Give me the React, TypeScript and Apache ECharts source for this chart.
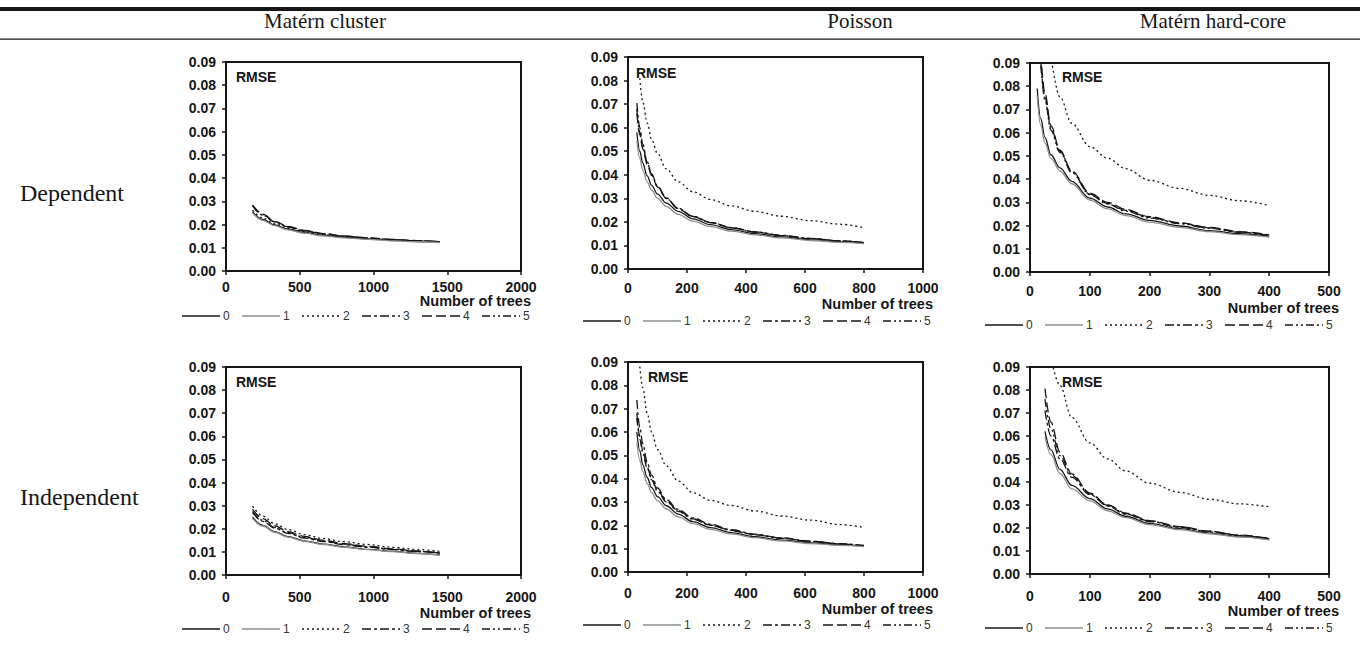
import React, { useEffect, useRef } from "react";
import * as echarts from "echarts";

// ---------- data ----------
const seriesNames = ["0", "1", "2", "3", "4", "5"];
const columnTitles = ["Matérn cluster", "Poisson", "Matérn hard-core"];
const rowTitles = ["Dependent", "Independent"];

const clusterX = [180, 250, 330, 420, 530, 660, 800, 960, 1130, 1300, 1450];
const poissonX = [30, 40, 50, 65, 80, 100, 130, 170, 220, 280, 350, 430, 520, 620, 720, 800];
const hardcoreX = [12, 18, 25, 35, 50, 70, 100, 130, 160, 200, 250, 300, 350, 400];

const clusterDependent = [
  [0.0255, 0.0222, 0.0198, 0.018, 0.0165, 0.0153, 0.0145, 0.0138, 0.0132, 0.0127, 0.0123],
  [0.025, 0.0218, 0.0195, 0.0177, 0.0163, 0.0151, 0.0143, 0.0136, 0.013, 0.0126, 0.0122],
  [0.0262, 0.0228, 0.0203, 0.0184, 0.0168, 0.0156, 0.0147, 0.014, 0.0134, 0.0129, 0.0125],
  [0.0282, 0.0242, 0.0212, 0.019, 0.0173, 0.016, 0.015, 0.0142, 0.0135, 0.013, 0.0126],
  [0.0285, 0.0245, 0.0214, 0.0192, 0.0175, 0.0161, 0.0151, 0.0143, 0.0136, 0.0131, 0.0127],
  [0.028, 0.024, 0.0211, 0.0189, 0.0172, 0.0159, 0.0149, 0.0141, 0.0135, 0.013, 0.0126],
];
const poissonDependent = [
  [0.058, 0.05, 0.045, 0.0395, 0.0355, 0.0318, 0.028, 0.0245, 0.0213, 0.0188, 0.0167, 0.015, 0.0136, 0.0124, 0.0115, 0.011],
  [0.0545, 0.047, 0.042, 0.037, 0.0335, 0.03, 0.0265, 0.0232, 0.0203, 0.018, 0.0161, 0.0145, 0.0132, 0.0121, 0.0113, 0.0108],
  [null, 0.081, 0.071, 0.062, 0.055, 0.049, 0.0425, 0.037, 0.0328, 0.0295, 0.0268, 0.0245, 0.0224, 0.0205, 0.019, 0.0175],
  [0.0705, 0.06, 0.053, 0.0455, 0.0405, 0.0352, 0.0302, 0.0258, 0.0224, 0.0198, 0.0176, 0.0158, 0.0143, 0.013, 0.0119, 0.0112],
  [0.066, 0.057, 0.051, 0.0445, 0.0398, 0.0348, 0.0299, 0.0256, 0.0222, 0.0197, 0.0175, 0.0157, 0.0142, 0.0129, 0.0119, 0.0112],
  [0.068, 0.058, 0.052, 0.045, 0.04, 0.035, 0.03, 0.0257, 0.0223, 0.0197, 0.0175, 0.0157, 0.0142, 0.0129, 0.0119, 0.0112],
];
const hardcoreDependent = [
  [0.079, 0.066, 0.058, 0.0505, 0.0448, 0.039, 0.0318, 0.028, 0.025, 0.0222, 0.0198, 0.0178, 0.0165, 0.0153],
  [0.076, 0.063, 0.0555, 0.049, 0.0435, 0.038, 0.031, 0.0272, 0.0243, 0.0215, 0.0192, 0.0174, 0.0161, 0.015],
  [null, null, null, 0.093, 0.0754, 0.064, 0.054, 0.049, 0.0445, 0.0395, 0.036, 0.033, 0.0307, 0.0286],
  [null, 0.091, 0.075, 0.062, 0.052, 0.043, 0.0335, 0.0295, 0.0265, 0.0235, 0.021, 0.019, 0.0172, 0.0158],
  [null, 0.094, 0.077, 0.063, 0.0525, 0.0435, 0.034, 0.03, 0.027, 0.0238, 0.0212, 0.0192, 0.0174, 0.016],
  [null, 0.089, 0.074, 0.061, 0.0515, 0.0428, 0.0333, 0.0292, 0.0262, 0.0232, 0.0208, 0.0188, 0.0171, 0.0157],
];
const clusterIndependent = [
  [0.025, 0.0215, 0.0188, 0.0166, 0.0148, 0.0134, 0.0122, 0.0111, 0.0102, 0.0094, 0.0087],
  [0.0245, 0.0212, 0.0185, 0.0164, 0.0146, 0.0132, 0.012, 0.011, 0.0101, 0.0093, 0.0086],
  [0.0298, 0.0255, 0.0222, 0.0197, 0.0175, 0.0158, 0.0144, 0.0132, 0.012, 0.011, 0.0102],
  [0.027, 0.0232, 0.0203, 0.018, 0.016, 0.0145, 0.0131, 0.012, 0.011, 0.0101, 0.0094],
  [0.0285, 0.0244, 0.0213, 0.0188, 0.0167, 0.015, 0.0136, 0.0124, 0.0113, 0.0104, 0.0096],
  [0.0275, 0.0236, 0.0206, 0.0183, 0.0163, 0.0147, 0.0133, 0.0122, 0.0111, 0.0102, 0.0095],
];
const poissonIndependent = [
  [0.06, 0.052, 0.046, 0.0405, 0.0362, 0.0323, 0.0284, 0.0248, 0.0216, 0.019, 0.0169, 0.0151, 0.0137, 0.0125, 0.0116, 0.0111],
  [0.0555, 0.048, 0.043, 0.038, 0.034, 0.0305, 0.027, 0.0236, 0.0207, 0.0183, 0.0163, 0.0147, 0.0133, 0.0122, 0.0114, 0.0109],
  [null, 0.088, 0.079, 0.068, 0.06, 0.0525, 0.0455, 0.039, 0.034, 0.0307, 0.0285, 0.0262, 0.024, 0.0222, 0.0203, 0.0191],
  [0.0737, 0.062, 0.055, 0.047, 0.0415, 0.036, 0.031, 0.0268, 0.0232, 0.0204, 0.0181, 0.0162, 0.0146, 0.0132, 0.0121, 0.0114],
  [0.068, 0.058, 0.052, 0.045, 0.04, 0.035, 0.0303, 0.0263, 0.0228, 0.0201, 0.0179, 0.016, 0.0145, 0.0131, 0.012, 0.0113],
  [0.066, 0.057, 0.051, 0.0445, 0.0395, 0.0345, 0.03, 0.026, 0.0226, 0.02, 0.0178, 0.0159, 0.0144, 0.013, 0.0119, 0.0112],
];
const hardcoreIndependent = [
  [null, null, 0.062, 0.054, 0.0455, 0.0385, 0.0328, 0.0283, 0.0251, 0.022, 0.0197, 0.0178, 0.0163, 0.015],
  [null, null, 0.0597, 0.052, 0.0437, 0.037, 0.0318, 0.0275, 0.0245, 0.0215, 0.0193, 0.0175, 0.0161, 0.0148],
  [null, null, null, 0.094, 0.082, 0.068, 0.057, 0.05, 0.0448, 0.0395, 0.0355, 0.0325, 0.0305, 0.0292],
  [null, null, 0.071, 0.06, 0.05, 0.042, 0.0345, 0.0295, 0.026, 0.0228, 0.0203, 0.0183, 0.0167, 0.0153],
  [null, null, 0.0806, 0.066, 0.053, 0.0435, 0.0352, 0.03, 0.0265, 0.0232, 0.0206, 0.0186, 0.0169, 0.0155],
  [null, null, 0.076, 0.063, 0.0515, 0.0428, 0.0348, 0.0298, 0.0263, 0.023, 0.0205, 0.0185, 0.0168, 0.0154],
];

const yMax = 0.09;
const yStep = 0.01;
const xAxisTitle = "Number of trees";
const panelTitle = "RMSE";

// ---------- styles / layout ----------
const SANS = "'Liberation Sans', Arial, Helvetica, sans-serif";
const SERIF = "'Liberation Serif', 'Times New Roman', Times, serif";
const INK = "#161616";

const lineStyles: any[] = [
  { color: INK, type: "solid" },
  { color: "#8e8e8e", type: "solid" },
  { color: INK, type: [2, 3] },
  { color: INK, type: [9, 3, 3, 3] },
  { color: INK, type: [10, 4] },
  { color: INK, type: [8, 3, 2, 3, 2, 3] },
];

const panels = [
  { x: clusterX, ys: clusterDependent, xMax: 2000, xInt: 500, left: 226, top: 62, width: 295, height: 209, labelMargin: 9, nameY: 301, legendLeft: 182, legendY: 316, rmseDx: 10, rmseDy: 15 },
  { x: poissonX, ys: poissonDependent, xMax: 1000, xInt: 200, left: 628, top: 57, width: 295, height: 212, labelMargin: 12, nameY: 304, legendLeft: 583, legendY: 321, rmseDx: 8, rmseDy: 16 },
  { x: hardcoreX, ys: hardcoreDependent, xMax: 500, xInt: 100, left: 1030, top: 63, width: 299, height: 209, labelMargin: 12, nameY: 308, legendLeft: 985, legendY: 325, rmseDx: 32, rmseDy: 14 },
  { x: clusterX, ys: clusterIndependent, xMax: 2000, xInt: 500, left: 226, top: 367, width: 295, height: 208, labelMargin: 15, nameY: 613, legendLeft: 182, legendY: 629, rmseDx: 10, rmseDy: 15 },
  { x: poissonX, ys: poissonIndependent, xMax: 1000, xInt: 200, left: 628, top: 362, width: 295, height: 210, labelMargin: 14, nameY: 609, legendLeft: 583, legendY: 625, rmseDx: 20, rmseDy: 15 },
  { x: hardcoreX, ys: hardcoreIndependent, xMax: 500, xInt: 100, left: 1030, top: 367, width: 299, height: 207, labelMargin: 15, nameY: 611, legendLeft: 985, legendY: 628, rmseDx: 32, rmseDy: 15 },
];

const columnCenters = [325, 860, 1213];
const rowCenters = [193, 497];
const legendStride = 60;
const legendLine = 38;

export default function App() {
  const ref = useRef<HTMLDivElement>(null);

  useEffect(() => {
    if (!ref.current) return;
    const chart = echarts.init(ref.current, undefined, { renderer: "svg" });

    const axisLabel = { fontFamily: SANS, fontWeight: "bold" as const, fontSize: 14, color: INK };

    const grid = panels.map((p) => ({
      left: p.left, top: p.top, width: p.width, height: p.height,
      show: true, borderColor: INK, borderWidth: 2, backgroundColor: "transparent",
    }));

    const xAxis = panels.map((p, i) => ({
      type: "value", gridIndex: i, min: 0, max: p.xMax, interval: p.xInt,
      axisLine: { show: true, onZero: false, lineStyle: { color: INK, width: 2 } },
      axisTick: { show: true, inside: false, length: 4, lineStyle: { color: INK, width: 1.5 } },
      splitLine: { show: false },
      axisLabel: { ...axisLabel, margin: p.labelMargin, formatter: (v: number) => String(v) },
    }));

    const yAxis = panels.map((p, i) => ({
      type: "value", gridIndex: i, min: 0, max: yMax, interval: yStep,
      axisLine: { show: true, onZero: false, lineStyle: { color: INK, width: 2 } },
      axisTick: { show: true, inside: false, length: 4, lineStyle: { color: INK, width: 1.5 } },
      splitLine: { show: false },
      axisLabel: { ...axisLabel, margin: 10, formatter: (v: number) => v.toFixed(2) },
    }));

    const series: any[] = [];
    panels.forEach((p, i) => {
      p.ys.forEach((vals, j) => {
        const ls = lineStyles[j];
        series.push({
          type: "line", name: seriesNames[j], xAxisIndex: i, yAxisIndex: i,
          data: p.x.map((xv, k) => [xv, vals[k]]),
          symbol: "none", showSymbol: false, smooth: 0.35, smoothMonotone: "x",
          color: ls.color,
          lineStyle: { color: ls.color, type: ls.type, width: 1.3 },
          z: j === 1 ? 3 : 2, clip: true, silent: true,
        });
      });
    });

    const graphic: any[] = [
      { type: "rect", shape: { x: 0, y: 7, width: 1360, height: 4 }, style: { fill: INK } },
      { type: "rect", shape: { x: 0, y: 38.5, width: 1360, height: 1.2 }, style: { fill: INK } },
    ];
    columnTitles.forEach((t, i) => {
      graphic.push({
        type: "text", x: columnCenters[i], y: 21,
        style: { text: t, font: `21px ${SERIF}`, fill: INK, textAlign: "center", textVerticalAlign: "middle" },
      });
    });
    rowTitles.forEach((t, i) => {
      graphic.push({
        type: "text", x: 20, y: rowCenters[i],
        style: { text: t, font: `24px ${SERIF}`, fill: INK, textAlign: "left", textVerticalAlign: "middle" },
      });
    });
    panels.forEach((p) => {
      graphic.push({
        type: "text", x: p.left + p.width + 10, y: p.nameY,
        style: { text: xAxisTitle, font: `bold 14.5px ${SANS}`, fill: INK, textAlign: "right", textVerticalAlign: "middle" },
      });
      graphic.push({
        type: "text", x: p.left + p.rmseDx, y: p.top + p.rmseDy,
        style: { text: panelTitle, font: `bold 14px ${SANS}`, fill: INK, textAlign: "left", textVerticalAlign: "middle" },
      });
      // legend
      seriesNames.forEach((nm, j) => {
        const ls = lineStyles[j];
        const x0 = p.legendLeft + j * legendStride;
        graphic.push({
          type: "line",
          shape: { x1: x0, y1: p.legendY, x2: x0 + legendLine, y2: p.legendY },
          style: { stroke: ls.color, lineWidth: 1.3, lineDash: ls.type === "solid" ? null : ls.type },
        });
        graphic.push({
          type: "text", x: x0 + legendLine + 3, y: p.legendY,
          style: { text: nm, font: `12px ${SANS}`, fill: "#333", textAlign: "left", textVerticalAlign: "middle" },
        });
      });
    });

    chart.setOption({
      animation: false,
      backgroundColor: "#ffffff",
      grid, xAxis, yAxis, series, graphic,
    });

    return () => chart.dispose();
  }, []);

  return (
    <div
      ref={ref}
      style={{ position: "absolute", left: 0, top: 0, width: 1360, height: 648 }}
    />
  );
}
